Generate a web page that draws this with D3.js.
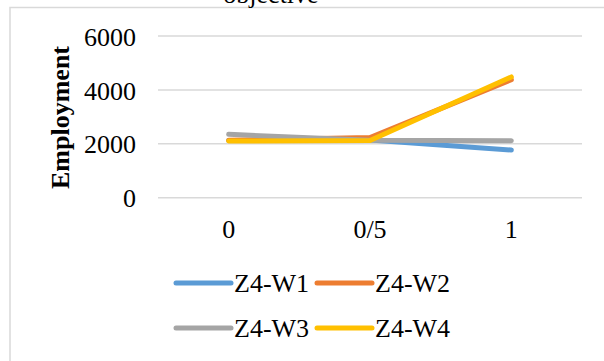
<!DOCTYPE html>
<html>
<head>
<meta charset="utf-8">
<script src="https://cdn.jsdelivr.net/npm/d3@7"></script>
<style>
  html, body { margin: 0; padding: 0; background: #fff; }
  svg { display: block; }
  text { font-family: "Liberation Serif", "Times New Roman", serif; fill: #000; }
</style>
</head>
<body>
<svg id="chart" width="604" height="361"></svg>
<script>
// Employment by objective weight, four scenarios
const categories = ["0", "0/5", "1"];
const seriesNames = ["Z4-W1", "Z4-W2", "Z4-W3", "Z4-W4"];
const w1 = [2120, 2140, 1770];
const w2 = [2130, 2230, 4380];
const w3 = [2350, 2130, 2110];
const w4 = [2100, 2120, 4480];
const yTicks = [0, 2000, 4000, 6000];
const colors = ["#5B9BD5", "#ED7D31", "#A5A5A5", "#FFC000"];

const series = [w1, w2, w3, w4].map((vals, i) => ({ name: seriesNames[i], values: vals, color: colors[i] }));

const svg = d3.select("#chart");

// chart frame
svg.append("rect")
  .attr("x", 10).attr("y", 7.5)
  .attr("width", 620).attr("height", 380)
  .attr("fill", "none")
  .attr("stroke", "#D9D9D9")
  .attr("stroke-width", 1.5);

// title (runs off the top edge)
svg.append("text")
  .attr("x", 271).attr("y", 3)
  .attr("text-anchor", "middle")
  .attr("font-size", 26)
  .text("objective");

const plot = { left: 158, right: 582, top: 36, bottom: 197.7 };

const x = d3.scaleBand().domain(categories).range([plot.left, plot.right]);
const y = d3.scaleLinear().domain([0, 6000]).range([plot.bottom, plot.top]);

// gridlines
svg.append("g").selectAll("line").data(yTicks).join("line")
  .attr("x1", plot.left).attr("x2", plot.right)
  .attr("y1", d => y(d)).attr("y2", d => y(d))
  .attr("stroke", "#D9D9D9").attr("stroke-width", 1.5);

// y axis labels
const yAxis = svg.append("g")
  .attr("transform", `translate(${plot.left - 22},0)`)
  .call(d3.axisLeft(y).tickValues(yTicks).tickFormat(d3.format("d")).tickSize(0).tickPadding(0));
yAxis.select(".domain").remove();
yAxis.selectAll("text")
  .attr("font-size", 26)
  .attr("font-family", "Liberation Serif, Times New Roman, serif")
  .attr("fill", "#000")
  .attr("dy", "0.35em");

// x axis labels
const xAxis = svg.append("g")
  .attr("transform", `translate(0,${plot.bottom + 22})`)
  .call(d3.axisBottom(x).tickSize(0).tickPadding(0));
xAxis.select(".domain").remove();
xAxis.selectAll("text")
  .attr("font-size", 26)
  .attr("font-family", "Liberation Serif, Times New Roman, serif")
  .attr("fill", "#000")
  .attr("dy", "0.71em");

// y axis title
svg.append("text")
  .attr("transform", "translate(69,117.5) rotate(-90)")
  .attr("text-anchor", "middle")
  .attr("font-size", 26)
  .attr("font-weight", "bold")
  .text("Employment");

// series lines
const line = d3.line()
  .x((d, i) => x(categories[i]) + x.bandwidth() / 2)
  .y(d => y(d));

svg.append("g").selectAll("path").data(series).join("path")
  .attr("d", d => line(d.values))
  .attr("fill", "none")
  .attr("stroke", d => d.color)
  .attr("stroke-width", 5)
  .attr("stroke-linecap", "round")
  .attr("stroke-linejoin", "round");

// legend
const legendPos = [[176, 283], [317, 283], [176, 328], [317, 328]];
const leg = svg.append("g").selectAll("g").data(series).join("g")
  .attr("transform", (d, i) => `translate(${legendPos[i][0]},${legendPos[i][1]})`);
leg.append("line")
  .attr("x1", 0).attr("x2", 55).attr("y1", 0).attr("y2", 0)
  .attr("stroke", d => d.color)
  .attr("stroke-width", 5)
  .attr("stroke-linecap", "round");
leg.append("text")
  .attr("x", 58).attr("y", 0).attr("dy", "0.35em")
  .attr("font-size", 26)
  .text(d => d.name);
</script>
</body>
</html>
